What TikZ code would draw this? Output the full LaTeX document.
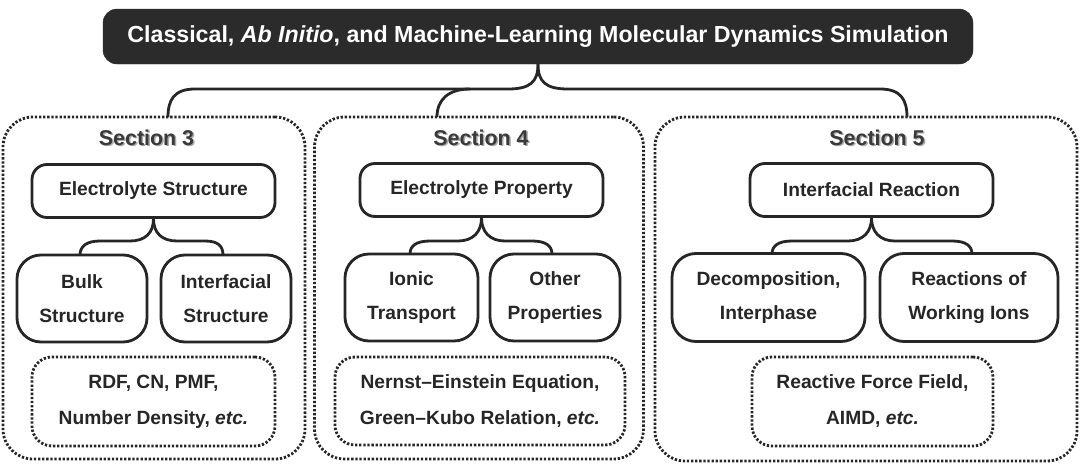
\documentclass[tikz,border=0pt]{standalone}
\usepackage{fontspec}
\setmainfont{Liberation Sans}
\definecolor{boxblack}{HTML}{2B2B2B}
\definecolor{ink}{HTML}{262626}
\definecolor{secgray}{HTML}{3A3A3A}
\definecolor{shadowgray}{HTML}{A8A8A8}
\begin{document}
\begin{tikzpicture}[x=1pt,y=-1pt,
  titlebox/.style={draw=boxblack,fill=boxblack,rounded corners=14pt,text=white,
    font=\fontsize{23.2}{26}\selectfont\bfseries,inner sep=0pt},
  secbox/.style={draw=ink,line width=2.8pt,dash pattern=on 2.3pt off 1.8pt,rounded corners=30pt,inner sep=0pt},
  subdot/.style={draw=ink,line width=2.8pt,dash pattern=on 2.3pt off 1.8pt,rounded corners=20pt,inner sep=0pt,
    align=center,font=\fontsize{19.2}{36}\selectfont\bfseries,text=ink},
  headbox/.style={draw=ink,line width=2.8pt,rounded corners=15pt,inner sep=0pt,
    font=\fontsize{19.2}{22}\selectfont\bfseries,text=ink},
  leafbox/.style={draw=ink,line width=2.8pt,rounded corners=24pt,inner sep=0pt,align=center,
    font=\fontsize{19.2}{34}\selectfont\bfseries,text=ink},
  sectitle/.style={font=\fontsize{21.4}{24}\selectfont\bfseries,text=secgray,inner sep=0pt},
  secshadow/.style={font=\fontsize{21.4}{24}\selectfont\bfseries,text=shadowgray,inner sep=0pt},
  conn/.style={draw=ink,line width=2.8pt}
]
\useasboundingbox (0,0) rectangle (1080,469);

% title
\node[titlebox,minimum width=870pt,minimum height=55pt] (title) at (538,36.5)
  {Classical, \textit{Ab Initio}, and Machine-Learning Molecular Dynamics Simulation};

% section boxes
\node[secbox,minimum width=302pt,minimum height=342pt] (s3) at (154,288) {};
\node[secbox,minimum width=329pt,minimum height=342pt] (s4) at (479,288) {};
\node[secbox,minimum width=422pt,minimum height=344pt] (s5) at (866,289) {};

% top brace
\coordinate (tb) at (title.south);
\draw[conn] (tb) .. controls (538,82) and (530,89) .. (508,89) -- (195,89)
  .. controls (174,89) and (168,100) .. (168,117);
\draw[conn] (tb) .. controls (538,82) and (546,89) .. (568,89) -- (880,89)
  .. controls (901,89) and (907,100) .. (907,117);
\draw[conn] (470,89) .. controls (448,89) and (437,100) .. (437,117);

% section titles
\node[secshadow] at (148,139) {Section 3};
\node[sectitle] (t3) at (146.5,137.5) {Section 3};
\node[secshadow] at (482.5,139) {Section 4};
\node[sectitle] (t4) at (481,137.5) {Section 4};
\node[secshadow] at (878.5,139) {Section 5};
\node[sectitle] (t5) at (877,137.5) {Section 5};

% section 3
\node[headbox,minimum width=243pt,minimum height=53pt] (h3) at (153.5,191) {Electrolyte Structure};
\node[leafbox,minimum width=130pt,minimum height=87pt] (a3) at (82,298.5) {Bulk\\Structure};
\node[leafbox,minimum width=130pt,minimum height=87pt] (b3) at (226,298.5) {Interfacial\\Structure};
\node[subdot,minimum width=243pt,minimum height=89pt] (d3) at (153.5,401.5) {RDF, CN, PMF,\\Number Density, \textit{etc.}};
\draw[conn] (h3.south) .. controls (153.5,233) and (145,241) .. (130,241) -- (100,241)
  .. controls (87,241) and (80,246) .. (80,255);
\draw[conn] (h3.south) .. controls (153.5,233) and (162,241) .. (177,241) -- (205,241)
  .. controls (218,241) and (223,246) .. (223,255);

% section 4
\node[headbox,minimum width=243pt,minimum height=53pt] (h4) at (481.5,190) {Electrolyte Property};
\node[leafbox,minimum width=133pt,minimum height=87pt] (a4) at (411.5,297.5) {Ionic\\Transport};
\node[leafbox,minimum width=130pt,minimum height=87pt] (b4) at (555,297.5) {Other\\Properties};
\node[subdot,minimum width=290pt,minimum height=88pt] (d4) at (480,401) {Nernst–Einstein Equation,\\Green–Kubo Relation, \textit{etc.}};
\draw[conn] (h4.south) .. controls (481.5,232) and (473,241) .. (458,241) -- (430,241)
  .. controls (416,241) and (410,246) .. (410,254);
\draw[conn] (h4.south) .. controls (481.5,232) and (490,241) .. (505,241) -- (532,241)
  .. controls (546,241) and (552,246) .. (552,254);

% section 5
\node[headbox,minimum width=243pt,minimum height=53pt] (h5) at (871.5,190) {Interfacial Reaction};
\node[leafbox,minimum width=193pt,minimum height=88pt] (a5) at (768.5,297.5) {Decomposition,\\Interphase};
\node[leafbox,minimum width=178pt,minimum height=88pt] (b5) at (969,297.5) {Reactions of\\Working Ions};
\node[subdot,minimum width=241pt,minimum height=89pt] (d5) at (872.5,401.5) {Reactive Force Field,\\AIMD, \textit{etc.}};
\draw[conn] (h5.south) .. controls (871.5,232) and (863,241) .. (848,241) -- (792,241)
  .. controls (778,241) and (772,246) .. (772,254);
\draw[conn] (h5.south) .. controls (871.5,232) and (880,241) .. (895,241) -- (952,241)
  .. controls (966,241) and (972,246) .. (972,254);
\end{tikzpicture}
\end{document}
